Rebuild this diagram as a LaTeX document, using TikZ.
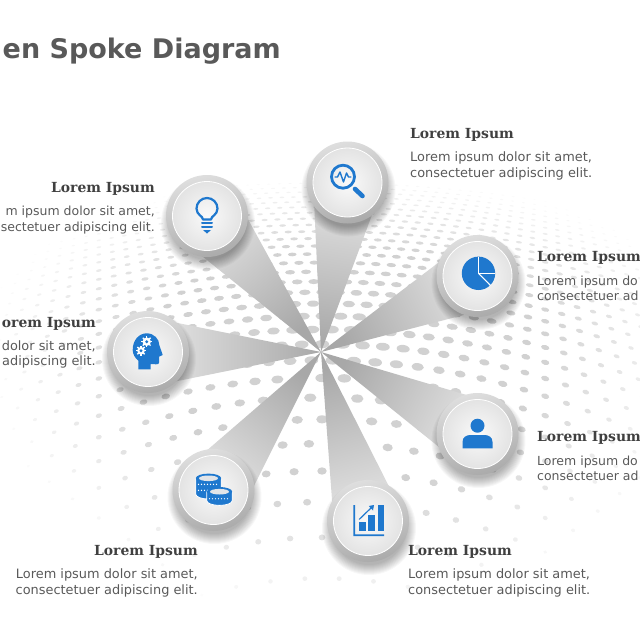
\documentclass[tikz,border=0pt]{standalone}
\usepackage{fontspec}
\setmainfont{DejaVu Sans}
\newfontfamily\headfont{DejaVu Serif}
\usetikzlibrary{calc}
\definecolor{iconblue}{RGB}{31,120,206}
\definecolor{bodygray}{RGB}{89,89,89}
\definecolor{headgray}{RGB}{64,64,64}
\definecolor{coinface}{RGB}{225,228,232}
\tikzset{
	spoke/.style={bottom color=black!34,top color=black!9},
	ring/.style={top color=black!13,bottom color=black!33,shading angle=15},
	disc/.style={inner color=black!2,outer color=black!11,draw=white,line width=.8pt},
	headtext/.style={font=\headfont\bfseries\fontsize{13.9}{16}\selectfont,text=headgray,inner sep=0pt},
	bodytext/.style={font=\fontsize{12.9}{15.5}\selectfont,text=bodygray,inner sep=0pt},
	cuttext/.style={font=\fontsize{12.5}{15.5}\selectfont,text=bodygray,inner sep=0pt},
	icon/.style={fill=iconblue,draw=none},
	iconline/.style={draw=iconblue,line cap=round,line join=round}
}
\begin{document}
\begin{tikzpicture}[x=1pt,y=-1pt,line join=round]
	\useasboundingbox (0,0) rectangle (640,640);
	\def\xO{321}
	\def\yO{352}
	\path
	(\xO,\yO) coordinate (O)
	(347.5,182.5) coordinate (cSearch)
	(207,216) coordinate (cBulb)
	(148,352) coordinate (cHead)
	(213.5,490) coordinate (cCoins)
	(368,521) coordinate (cChart)
	(477.5,276) coordinate (cPie)
	(477.5,434) coordinate (cPerson);
	% ve cac cham nen
	\foreach \m in {13,...,42}{
		\pgfmathsetmacro\rowy{6+7440/\m}
		\pgfmathsetmacro\stp{0.06*(\rowy-6)}
		\pgfmathtruncatemacro\nmax{ceil(360/\stp)}
		\pgfmathsetmacro\rowoff{mod(\m,2)*0.5}
		\foreach \i in {-\nmax,...,\nmax}{
			\pgfmathsetmacro\ddx{(\i+\rowoff)*\stp/100}
			\pgfmathsetmacro\dotx{322+100*\ddx}
			\pgfmathsetmacro\doty{\rowy+0.02*\rowy*\ddx*\ddx}
			\pgfmathsetmacro\dv{(\doty-340)/(\doty<340?170:285)}
			\pgfmathsetmacro\fd{1-veclen((\dotx-345)/370,\dv)}
			\ifdim\fd pt>0.02pt
				\pgfmathsetmacro\rx{1.5+6*\fd}
				\pgfmathsetmacro\ry{\rx*min(1,\doty/600)}
				\pgfmathsetmacro\tone{min(18,38*\fd)}
				\pgfmathsetmacro\tilt{-atan(0.04*\rowy*\ddx/100)}
				\fill[black!\tone,shift={(\dotx,\doty)},rotate=\tilt] (0,0) ellipse (\rx pt and \ry pt);
			\fi
		}
	}
	% ve cac nan hoa
	\foreach \c/\x/\y in {cSearch/347.5/182.5,cBulb/207/216,cHead/148/352,cCoins/213.5/490,cChart/368/521,cPie/477.5/276,cPerson/477.5/434}{
		\pgfmathsetmacro\ang{atan2(\yO-\y,\x-\xO)-90}
		\shade[spoke,shading angle=\ang] (O)--($(\c)!35pt!90:(O)$)--($(\c)!35pt!-90:(O)$)--cycle;
	}
	% ve cac vong tron
	\foreach \c in {cSearch,cBulb,cHead,cCoins,cChart,cPie,cPerson}{
		\foreach \r in {37,38,...,47}{
			\fill[black,opacity=.03] ($(\c)+(1,7)$) circle (\r pt);
		}
		\shade[ring] (\c) circle (41pt);
		\shade[disc] (\c) circle (34.5pt);
	}
	% kinh lup
	\begin{scope}[shift={(cSearch)}]
		\draw[iconline,line width=2.8pt] (-4.5,-5.8) circle (11.5pt);
		\draw[iconline,line width=4.6pt] (7.5,6.5)--(15,13.5);
		\draw[iconline,line width=1.4pt] (-12.5,-5.5)--(-10,-5.5)--(-7.5,-10.5)--(-4,-.5)--(-1,-9.5)--(1,-5.5)--(3.5,-5.5);
	\end{scope}
	% bong den
	\begin{scope}[shift={(cBulb)}]
		\draw[iconline,line width=2.2pt] (-4,3.5)..controls (-4,0) and (-10.5,-1) .. (-10.5,-7.5)
		arc[start angle=180,end angle=360,x radius=10.5pt,y radius=-10.5pt]
		..controls (10.5,-1) and (4,0) .. (4,3.5)--cycle;
		\draw[iconline,line width=2pt] (-5,7)--(5,7) (-5,11)--(5,11);
		\fill[icon] (-4,14)--(4,14)--(0,17.5)--cycle;
	\end{scope}
	% dau nguoi
	\begin{scope}[shift={(cHead)}]
		\fill[icon] (-9.7,17.3)--(-9.7,8.7)..controls (-13,6) and (-15.3,2) .. (-15.3,-2)
		..controls (-15.3,-12) and (-9,-18.7) .. (-1.3,-18.7)
		..controls (6,-18.7) and (11.3,-13) .. (11.3,-7)
		--(14.7,3)--(11,4.7)--(11,10.7)..controls (11,12) and (10,12.3) .. (8,12.3)
		--(2.7,12)--(2.7,17.3)--cycle;
		\foreach \gx/\gy/\gr in {-1.3/-10.3/4.2,-7/-1.3/3.8}{
			\fill[white] (\gx,\gy) circle (\gr pt);
			\foreach \a in {0,45,...,315}{
				\draw[white,line width=1.4pt] (\gx,\gy)--++(\a:\gr+1.3);
			}
			\fill[iconblue] (\gx,\gy) circle (1.6pt);
		}
	\end{scope}
	% dong xu
	\begin{scope}[shift={(cCoins)}]
		\foreach \sx/\sy/\sh/\rows in {-5/-11.7/16/{6,12},6/1.7/9/{7}}{
			\fill[icon,draw=white,line width=.8pt] (\sx-12.7,\sy)--(\sx-12.7,\sy+\sh)
			arc[start angle=180,end angle=360,x radius=12.7pt,y radius=4.7pt]
			--(\sx+12.7,\sy)--cycle;
			\fill[icon] (\sx,\sy) ellipse (12.7pt and 4.7pt);
			\fill[coinface] (\sx,\sy) ellipse (9.5pt and 2.8pt);
			\foreach \rw in \rows{
				\foreach \d in {-10,-7,...,10}{
					\fill[white] (\sx+\d,\sy+\rw) circle (.7pt);
				}
			}
		}
	\end{scope}
	% bieu do cot
	\begin{scope}[shift={(cChart)}]
		\fill[icon] (-14.7,-16)--(-13,-16)--(-13,13.3)--(16,13.3)--(16,15)--(-14.7,15)--cycle;
		\fill[icon] (-8.7,1.3) rectangle (-2,9.7);
		\fill[icon] (.3,-6) rectangle (7,9.7);
		\fill[icon] (9.7,-16) rectangle (16,9.7);
		\draw[iconline,line width=1.2pt] (-8.7,-1.7)--(4,-14);
		\fill[icon] (6,-16)--(.8,-15)--(5,-10.5)--cycle;
	\end{scope}
	% bieu do tron
	\begin{scope}[shift={(cPie)}]
		\fill[icon] (1,-2.7) circle (16.7pt);
		\draw[white,line width=1.1pt,line cap=butt] (1,-19.4)--(1,-2.7)--(17.7,-2.7);
		\draw[white,line width=1.1pt] (1,-2.7)--(13,9.5);
	\end{scope}
	% nguoi
	\begin{scope}[shift={(cPerson)}]
		\fill[icon] (0,-8.3) circle (7pt);
		\fill[icon] (-15,14.3)--(15,14.3)--(15,8)..controls (15,3) and (11,1) .. (7,1)
		--(-7,1)..controls (-11,1) and (-15,3) .. (-15,8)--cycle;
	\end{scope}
	% tieu de
	\node[anchor=base east,inner sep=0pt,text=bodygray,font=\bfseries\fontsize{27}{32}\selectfont] (title) at (281,58) {en Spoke Diagram};
	% cac nhan ben phai
	\node[headtext,anchor=base west] (hSearch) at (410,138) {Lorem Ipsum};
	\node[bodytext,anchor=base west] (bSearchA) at (410,161) {Lorem ipsum dolor sit amet,};
	\node[bodytext,anchor=base west] (bSearchB) at (410,177) {consectetuer adipiscing elit.};
	\node[headtext,anchor=base west] (hChart) at (408,555) {Lorem Ipsum};
	\node[bodytext,anchor=base west] (bChartA) at (408,578) {Lorem ipsum dolor sit amet,};
	\node[bodytext,anchor=base west] (bChartB) at (408,594) {consectetuer adipiscing elit.};
	\node[headtext,anchor=base west] (hPie) at (537,261) {Lorem Ipsum};
	\node[cuttext,anchor=base west] (bPieA) at (537,285) {Lorem ipsum do};
	\node[cuttext,anchor=base west] (bPieB) at (537,300) {consectetuer ad};
	\node[headtext,anchor=base west] (hPerson) at (537,441) {Lorem Ipsum};
	\node[cuttext,anchor=base west] (bPersonA) at (537,465) {Lorem ipsum do};
	\node[cuttext,anchor=base west] (bPersonB) at (537,480) {consectetuer ad};
	% cac nhan ben trai
	\node[headtext,anchor=base east] (hBulb) at (155,192) {Lorem Ipsum};
	\node[cuttext,anchor=base east] (bBulbA) at (155,215) {m ipsum dolor sit amet,};
	\node[cuttext,anchor=base east] (bBulbB) at (155,231) {sectetuer adipiscing elit.};
	\node[headtext,anchor=base east] (hHead) at (96,327) {orem Ipsum};
	\node[bodytext,anchor=base east] (bHeadA) at (96,350) {dolor sit amet,};
	\node[bodytext,anchor=base east] (bHeadB) at (96,365) {adipiscing elit.};
	\node[headtext,anchor=base east] (hCoins) at (198,555) {Lorem Ipsum};
	\node[bodytext,anchor=base east] (bCoinsA) at (198,578) {Lorem ipsum dolor sit amet,};
	\node[bodytext,anchor=base east] (bCoinsB) at (198,594) {consectetuer adipiscing elit.};
\end{tikzpicture}
\end{document}
